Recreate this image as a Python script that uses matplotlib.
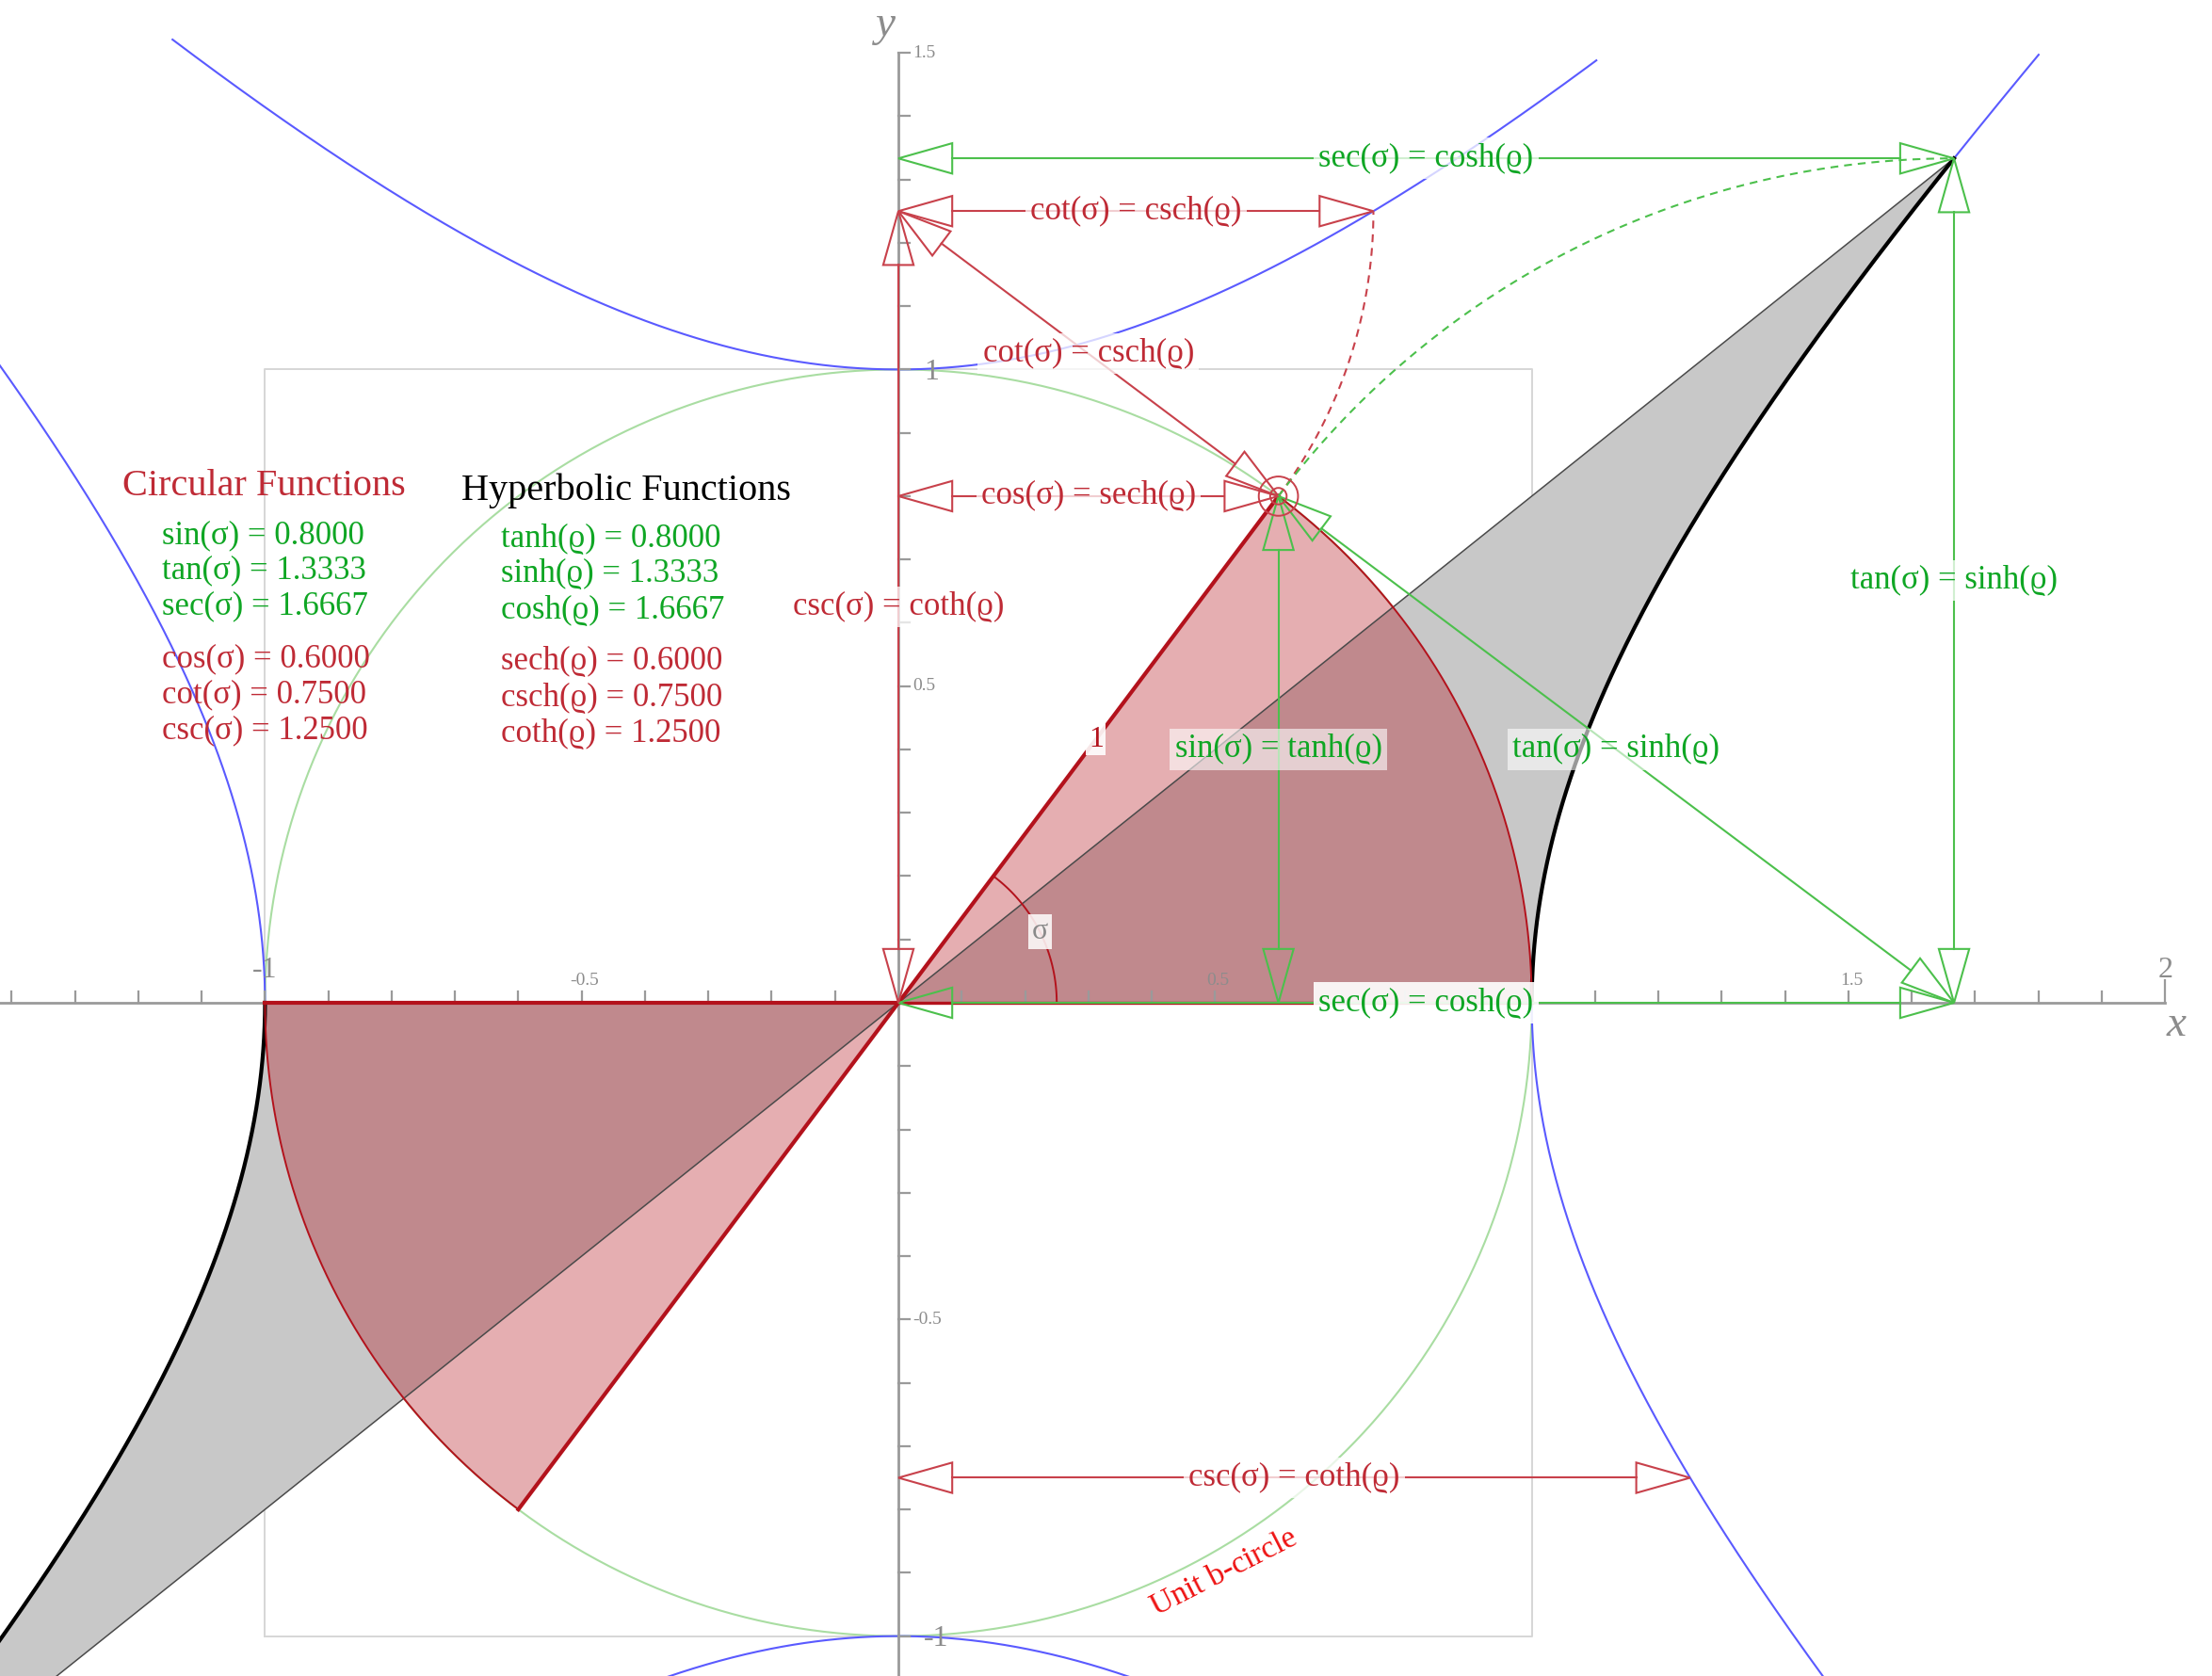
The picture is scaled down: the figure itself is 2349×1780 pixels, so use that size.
import numpy as np
import matplotlib
matplotlib.use("Agg")
import matplotlib.pyplot as plt
from matplotlib.patches import Polygon, Circle

plt.rcParams['font.family'] = ['Liberation Serif', 'DejaVu Serif']
plt.rcParams['mathtext.fontset'] = 'dejavuserif'

# ---- function values for the chosen angle sigma (and matching rho) ----
circular_labels = ['sin(σ)', 'tan(σ)', 'sec(σ)', 'cos(σ)', 'cot(σ)', 'csc(σ)']
circular_values = [0.8000, 1.3333, 1.6667, 0.6000, 0.7500, 1.2500]
hyperbolic_labels = ['tanh(ϱ)', 'sinh(ϱ)', 'cosh(ϱ)', 'sech(ϱ)', 'csch(ϱ)', 'coth(ϱ)']
hyperbolic_values = [0.8000, 1.3333, 1.6667, 0.6000, 0.7500, 1.2500]

# visible extents of the unit hyperbola branches
top_branch_x = [-1.146, 1.102]
right_branch_y = [-1.07, 1.497]
left_branch_y = [0.0, 1.1]
bottom_branch_x = [-0.45, 0.45]

# axis tick labels
x_ticklabels = {-1.0: '-1', -0.5: '-0.5', 0.5: '0.5', 1.5: '1.5', 2.0: '2'}
y_ticklabels = {-1.0: '-1', -0.5: '-0.5', 0.5: '0.5', 1.0: '1', 1.5: '1.5'}

sin_s, tan_s, sec_s, cos_s, cot_s, csc_s = circular_values
sigma = np.arctan2(sin_s, cos_s)
rho = np.arcsinh(tan_s)

RED = '#b3121c'
RED_ARROW = '#c8414b'
RED_TEXT = '#bf2a35'
GREEN_ARROW = '#4cc04c'
GREEN_TEXT = '#0fa624'
BLUE = '#5a5aff'
GREY = '#8c8c8c'

W_PX, H_PX = 2349, 1780
fig = plt.figure(figsize=(W_PX / 100, H_PX / 100), dpi=100)
ax = fig.add_axes([0, 0, 1, 1])
ax.set_xlim(-1.4184, 2.074)
ax.set_ylim(-1.063, 1.5834)
ax.set_aspect('equal')
ax.axis('off')

# ---- light frame and unit circle ----
ax.plot([-1, 1, 1, -1, -1], [-1, -1, 1, 1, -1], color='#d6d6d6', lw=1.4, zorder=1)
th = np.linspace(0, 2 * np.pi, 600)
ax.plot(np.cos(th), np.sin(th), color='#a9dda2', lw=1.5, zorder=2)

# ---- hyperbola branches ----
t = np.linspace(np.arcsinh(right_branch_y[0]), np.arcsinh(right_branch_y[1]), 400)
ax.plot(np.cosh(t), np.sinh(t), color=BLUE, lw=1.5, zorder=2)
t = np.linspace(np.arcsinh(left_branch_y[0]), np.arcsinh(left_branch_y[1]), 400)
ax.plot(-np.cosh(t), np.sinh(t), color=BLUE, lw=1.5, zorder=2)
t = np.linspace(np.arcsinh(top_branch_x[0]), np.arcsinh(top_branch_x[1]), 400)
ax.plot(np.sinh(t), np.cosh(t), color=BLUE, lw=1.5, zorder=2)
t = np.linspace(np.arcsinh(bottom_branch_x[0]), np.arcsinh(bottom_branch_x[1]), 400)
ax.plot(np.sinh(t), -np.cosh(t), color=BLUE, lw=1.5, zorder=2)

# ---- hyperbolic sectors (grey) ----
th_h = np.linspace(0, rho, 300)
hx, hy = np.cosh(th_h), np.sinh(th_h)
sector_h = np.column_stack([np.r_[0, hx, 0], np.r_[0, hy, 0]])
ax.add_patch(Polygon(sector_h, closed=True, facecolor='#c8c8c8', edgecolor='none', zorder=3))
ax.add_patch(Polygon(-sector_h, closed=True, facecolor='#c8c8c8', edgecolor='none', zorder=3))
ax.plot([-hx[-1], hx[-1]], [-hy[-1], hy[-1]], color='#4a4a4a', lw=1.1, zorder=6)
ax.plot(hx, hy, color='black', lw=3.0, zorder=6)
ax.plot(-hx, -hy, color='black', lw=3.0, zorder=6)

# ---- circular sectors (red, translucent) ----
th_c = np.linspace(0, sigma, 300)
cx, cy = np.cos(th_c), np.sin(th_c)
sector_c = np.column_stack([np.r_[0, cx, 0], np.r_[0, cy, 0]])
ax.add_patch(Polygon(sector_c, closed=True, facecolor=RED, alpha=0.34, edgecolor='none', zorder=4))
ax.add_patch(Polygon(-sector_c, closed=True, facecolor=RED, alpha=0.34, edgecolor='none', zorder=4))
ax.plot(cx, cy, color=RED, lw=1.4, zorder=6)
ax.plot(-cx, -cy, color=RED, lw=1.4, zorder=6)
ax.plot([-cos_s, cos_s], [-sin_s, sin_s], color=RED, lw=3.0, zorder=7)
ax.plot([-1, 0], [0, 0], color=RED, lw=3.0, zorder=7)
ax.plot([0, 1], [0, 0], color=RED, lw=2.4, zorder=7)

# angle marker
ta = np.linspace(0, sigma, 100)
ax.plot(0.25 * np.cos(ta), 0.25 * np.sin(ta), color=RED, lw=1.4, zorder=7)
ax.text(0.25 * np.cos(sigma / 2), 0.25 * np.sin(sigma / 2), 'σ', color='#8a8a8a',
        fontsize=23, ha='center', va='center', zorder=9,
        bbox=dict(boxstyle='square,pad=0.12', fc='white', ec='none', alpha=0.85))
ax.text(0.52 * cos_s, 0.52 * sin_s, '1', color=RED, fontsize=23, ha='center', va='center',
        zorder=9, bbox=dict(boxstyle='square,pad=0.08', fc='white', ec='none', alpha=0.9))

# ---- axes ----
ax.plot([-1.4184, 2.0], [0, 0], color='#9a9a9a', lw=2.0, zorder=5)
ax.plot([0, 0], [-1.063, 1.5], color='#9a9a9a', lw=2.0, zorder=5)
tick = 0.018
for xv in np.round(np.arange(-1.4, 2.001, 0.1), 2):
    h = 0.035 if abs(xv - 2.0) < 1e-9 else tick
    ax.plot([xv, xv], [0, h], color='#9a9a9a', lw=1.6, zorder=5)
for yv in np.round(np.arange(-1.0, 1.501, 0.1), 2):
    ax.plot([0, tick], [yv, yv], color='#9a9a9a', lw=1.6, zorder=5)
for xv, lab in x_ticklabels.items():
    big = lab in ('-1', '2')
    ax.text(xv + (0.0 if big else 0.005), 0.03 if big else 0.022, lab, color=GREY,
            fontsize=23 if big else 14, ha='center', va='bottom', zorder=5)
for yv, lab in y_ticklabels.items():
    big = lab in ('-1', '1')
    ax.text(0.04 if big else 0.022, yv - (0.005 if big else 0), lab, color=GREY,
            fontsize=23 if big else 14, ha='left', va='center', zorder=5)
ax.text(2.018, -0.036, 'x', color=GREY, fontsize=34, style='italic', ha='center', va='center')
ax.text(-0.02, 1.543, 'y', color=GREY, fontsize=34, style='italic', ha='center', va='center')


# ---- double-headed arrows with open triangular heads ----
def double_arrow(p0, p1, color, label, tcolor, L=0.085, W=0.024, lw=1.5, box_alpha=0.75):
    p0 = np.asarray(p0, float)
    p1 = np.asarray(p1, float)
    d = p1 - p0
    u = d / np.hypot(*d)
    n = np.array([-u[1], u[0]])
    s0, s1 = p0 + L * u, p1 - L * u
    ax.plot([s0[0], s1[0]], [s0[1], s1[1]], color=color, lw=lw, zorder=8)
    for tip, dirv in ((p1, u), (p0, -u)):
        base = tip - L * dirv
        tri = [tip, base + W * n, base - W * n]
        ax.add_patch(Polygon(tri, closed=True, fill=False, edgecolor=color, lw=lw, zorder=8))
    mid = (p0 + p1) / 2
    ax.text(mid[0], mid[1], label, color=tcolor, fontsize=25, ha='center', va='center',
            zorder=10, bbox=dict(boxstyle='square,pad=0.15', fc='white', ec='none',
                                 alpha=box_alpha))


P = (cos_s, sin_s)
double_arrow((0, tan_s), (sec_s, tan_s), GREEN_ARROW, 'sec(σ) = cosh(ϱ)', GREEN_TEXT)
double_arrow((0, 0), (sec_s, 0), GREEN_ARROW, 'sec(σ) = cosh(ϱ)', GREEN_TEXT, box_alpha=0.9)
double_arrow((sec_s, 0), (sec_s, tan_s), GREEN_ARROW, 'tan(σ) = sinh(ϱ)', GREEN_TEXT)
double_arrow((cos_s, 0), P, GREEN_ARROW, 'sin(σ) = tanh(ϱ)', GREEN_TEXT, box_alpha=0.6)
double_arrow(P, (sec_s, 0), GREEN_ARROW, 'tan(σ) = sinh(ϱ)', GREEN_TEXT, box_alpha=0.6)
double_arrow((0, csc_s), (cot_s, csc_s), RED_ARROW, 'cot(σ) = csch(ϱ)', RED_TEXT)
double_arrow((0, csc_s), P, RED_ARROW, 'cot(σ) = csch(ϱ)', RED_TEXT)
double_arrow((0, sin_s), P, RED_ARROW, 'cos(σ) = sech(ϱ)', RED_TEXT)
double_arrow((0, 0), (0, csc_s), RED_ARROW, 'csc(σ) = coth(ϱ)', RED_TEXT)
double_arrow((0, -cot_s), (csc_s, -cot_s), RED_ARROW, 'csc(σ) = coth(ϱ)', RED_TEXT)

# dashed swing arcs
a0 = np.arctan2(sin_s - csc_s, cos_s)
ta = np.linspace(a0, 0, 100)
ax.plot(cot_s * np.cos(ta), csc_s + cot_s * np.sin(ta), color=RED_ARROW, lw=1.5,
        ls=(0, (4, 3)), zorder=8)
a1 = np.arctan2(sin_s, cos_s - sec_s)
ta = np.linspace(a1, np.pi / 2, 100)
ax.plot(sec_s + tan_s * np.cos(ta), tan_s * np.sin(ta), color=GREEN_ARROW, lw=1.5,
        ls=(0, (4, 3)), zorder=8)

# point on the circle
ax.add_patch(Circle(P, 0.031, fill=False, edgecolor=RED_ARROW, lw=1.4, zorder=9))
ax.add_patch(Circle(P, 0.013, fill=False, edgecolor=RED_ARROW, lw=1.4, zorder=9))

# ---- value tables ----
ax.text(-1.002, 0.815, 'Circular Functions', color=RED_TEXT, fontsize=29,
        ha='center', va='center', zorder=10)
ax.text(-0.43, 0.808, 'Hyperbolic Functions', color='black', fontsize=29,
        ha='center', va='center', zorder=10)
circ_y = [0.737, 0.682, 0.626, 0.543, 0.486, 0.430]
hyp_y = [0.733, 0.677, 0.619, 0.539, 0.481, 0.425]
for i, (lab, val) in enumerate(zip(circular_labels, circular_values)):
    ax.text(-1.163, circ_y[i], f'{lab} = {val:.4f}', color=GREEN_TEXT if i < 3 else RED_TEXT,
            fontsize=25, ha='left', va='center', zorder=10)
for i, (lab, val) in enumerate(zip(hyperbolic_labels, hyperbolic_values)):
    ax.text(-0.628, hyp_y[i], f'{lab} = {val:.4f}', color=GREEN_TEXT if i < 3 else RED_TEXT,
            fontsize=25, ha='left', va='center', zorder=10)

ax.text(0.514, -0.90, 'Unit b-circle', color='#ee1111', fontsize=24, rotation=27,
        ha='center', va='center', zorder=10)

fig.savefig('out.png', dpi=100)
